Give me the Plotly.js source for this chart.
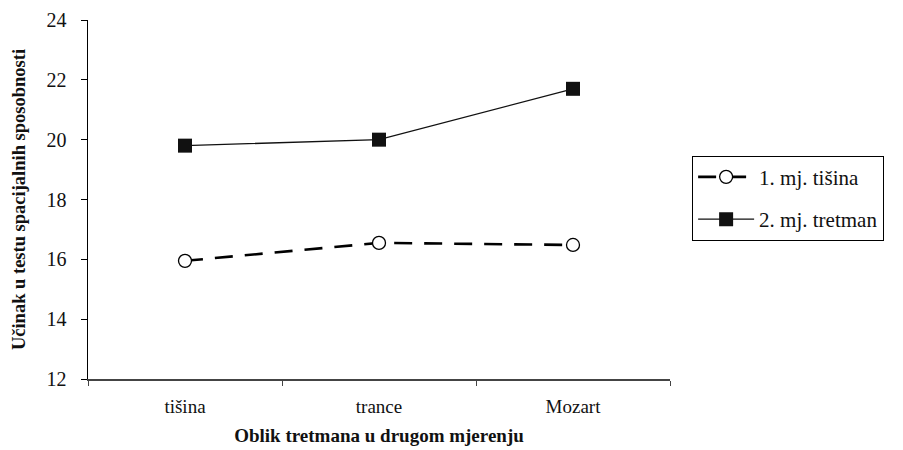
<!DOCTYPE html>
<html>
<head>
<meta charset="utf-8">
<script src="https://cdn.plot.ly/plotly-3.0.1.min.js"></script>
<style>html,body{margin:0;padding:0;background:#fff;}#chart{width:903px;height:450px;}</style>
</head>
<body>
<div id="chart"></div>
<script>
const categories = ["tišina", "trance", "Mozart"];
const series1Name = "1. mj. tišina";
const series1Values = [15.95, 16.55, 16.48];
const series2Name = "2. mj. tretman";
const series2Values = [19.8, 20.0, 21.7];
const yTicks = [12, 14, 16, 18, 20, 22, 24];

const font = "Liberation Serif";

const traces = [
  {
    x: categories, y: series1Values, name: series1Name, type: "scatter", mode: "lines+markers",
    legendgroup: "g1",
    line: {color: "#000", width: 2.6, dash: "18px,12px"},
    marker: {symbol: "circle", size: 13, color: "#fff", line: {color: "#000", width: 1.3}}
  },
  {
    x: categories, y: series2Values, name: series2Name, type: "scatter", mode: "lines+markers",
    legendgroup: "g2",
    line: {color: "#111", width: 1.3},
    marker: {symbol: "square", size: 14, color: "#111", line: {color: "#111", width: 0}}
  }
];

const layout = {
  width: 903, height: 450,
  margin: {l: 88, r: 233, t: 20, b: 71},
  paper_bgcolor: "#fff", plot_bgcolor: "#fff",
  font: {family: font, size: 20, color: "#111"},
  showlegend: true,
  legend: {
    x: 1.038, y: 0.622, xanchor: "left", yanchor: "top",
    bordercolor: "#000", borderwidth: 1, bgcolor: "#fff",
    font: {family: font, size: 21, color: "#111"},
    tracegroupgap: 12, itemwidth: 56
  },
  xaxis: {
    type: "category",
    range: [-0.5, 2.5],
    tickson: "boundaries",
    ticks: "outside", ticklen: 5, tickcolor: "#444", tickwidth: 1,
    ticklabelstandoff: 10,
    showline: true, linecolor: "#444", linewidth: 1.5,
    showgrid: false, zeroline: false,
    tickfont: {family: font, size: 19, color: "#111"},
    title: {text: "<b>Oblik tretmana u drugom mjerenju</b>", font: {family: font, size: 19, color: "#111"}, standoff: 12}
  },
  yaxis: {
    range: [12, 24], tickvals: yTicks, ticktext: yTicks.map(String),
    ticks: "outside", ticklen: 6, tickcolor: "#000", tickwidth: 1,
    ticklabelstandoff: 10,
    showline: true, linecolor: "#000", linewidth: 1.5,
    showgrid: false, zeroline: false,
    tickfont: {family: font, size: 20, color: "#111"},
    title: {text: "<b>Učinak u testu spacijalnih sposobnosti</b>", font: {family: font, size: 18.5, color: "#111"}, standoff: 16}
  }
};

Plotly.newPlot("chart", traces, layout, {displayModeBar: false, staticPlot: true});
</script>
</body>
</html>
